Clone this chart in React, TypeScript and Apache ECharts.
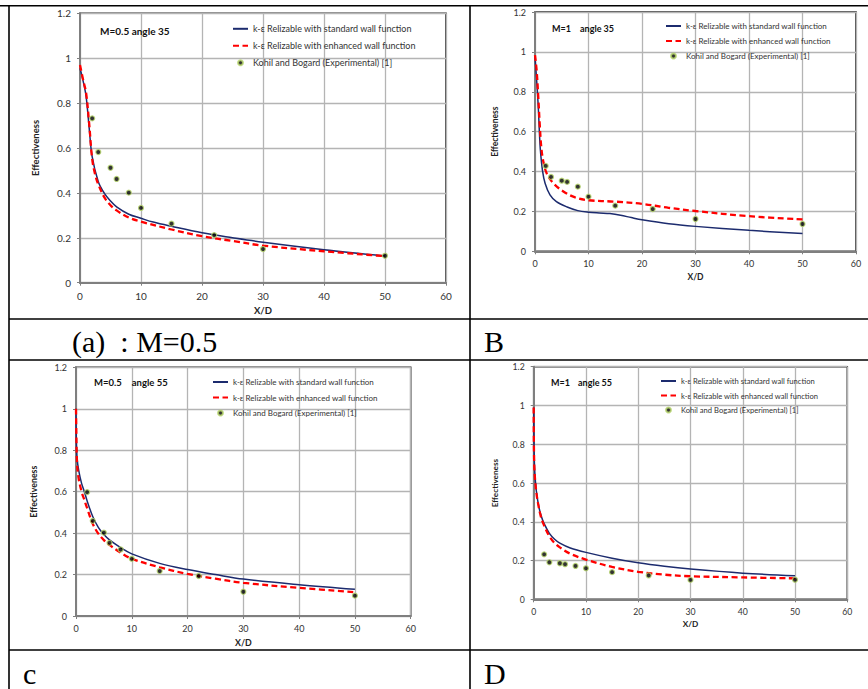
import React, { useEffect, useRef } from 'react';
import * as echarts from 'echarts';

const FONT = "Lato, 'Liberation Sans', sans-serif";
const SERIF = "'Liberation Serif', 'DejaVu Serif', serif";

const NAME_STD = 'k-ε Relizable with standard wall function';
const NAME_ENH = 'k-ε Relizable with enhanced wall function';
const NAME_EXP = 'Kohil and Bogard (Experimental) [1]';

const xTicks = [0, 10, 20, 30, 40, 50, 60];
const yTicks = [0, 0.2, 0.4, 0.6, 0.8, 1, 1.2];

// experimental stations X/D
const expX = [2, 3, 5, 6, 8, 10, 15, 22, 30, 50];

// Panel A: M=0.5 angle 35
const expA = [0.732, 0.582, 0.512, 0.462, 0.401, 0.333, 0.263, 0.212, 0.15, 0.12];
const stdA = [[0, 0.955], [0.5, 0.9], [1, 0.83], [1.5, 0.69], [2, 0.56], [3, 0.45], [4, 0.398], [5, 0.364], [6, 0.338], [8, 0.305], [10, 0.287], [12, 0.27], [15, 0.251], [20, 0.222], [25, 0.2], [30, 0.18], [40, 0.147], [50, 0.119]];
const enhA = [[0, 0.97], [0.5, 0.905], [1, 0.845], [1.5, 0.71], [2, 0.55], [2.5, 0.48], [3, 0.438], [4, 0.38], [5, 0.345], [6, 0.322], [8, 0.29], [10, 0.272], [15, 0.237], [20, 0.207], [25, 0.186], [30, 0.165], [40, 0.14], [50, 0.118]];

// Panel B: M=1 angle 35
const expB = [0.428, 0.373, 0.354, 0.348, 0.324, 0.274, 0.229, 0.212, 0.162, 0.137];
const stdB = [[0, 0.976], [0.3, 0.86], [0.6, 0.73], [0.8, 0.61], [1, 0.51], [1.4, 0.405], [1.9, 0.34], [2.8, 0.283], [4, 0.249], [6, 0.222], [8, 0.204], [10, 0.196], [12, 0.192], [14, 0.189], [16, 0.181], [18, 0.169], [20, 0.158], [25, 0.138], [30, 0.125], [40, 0.105], [50, 0.089]];
const enhB = [[0, 0.984], [0.3, 0.91], [0.6, 0.78], [0.9, 0.63], [1.2, 0.515], [1.6, 0.445], [2.2, 0.39], [3.4, 0.342], [5.3, 0.3], [7.5, 0.27], [10, 0.256], [15, 0.249], [20, 0.238], [25, 0.218], [30, 0.202], [40, 0.176], [50, 0.16]];

// Panel C: M=0.5 angle 55
const expC = [0.598, 0.459, 0.402, 0.353, 0.321, 0.276, 0.217, 0.193, 0.117, 0.098];
const stdC = [[0, 1.0], [0.05, 0.86], [0.2, 0.76], [0.5, 0.7], [1, 0.64], [1.5, 0.6], [2, 0.555], [3, 0.48], [4, 0.428], [5, 0.393], [6, 0.367], [8, 0.33], [10, 0.3], [15, 0.254], [20, 0.224], [25, 0.2], [30, 0.178], [40, 0.151], [50, 0.129]];
const enhC = [[0, 1.0], [0.05, 0.9], [0.2, 0.73], [0.5, 0.66], [1, 0.6], [1.5, 0.56], [2, 0.52], [3, 0.445], [4, 0.397], [5, 0.366], [6, 0.343], [8, 0.306], [10, 0.276], [15, 0.235], [20, 0.203], [25, 0.18], [30, 0.16], [40, 0.136], [50, 0.115]];

// Panel D: M=1 angle 55
const expD = [0.232, 0.191, 0.186, 0.181, 0.172, 0.16, 0.14, 0.123, 0.1, 0.101];
const stdD = [[0, 0.99], [0.06, 0.79], [0.2, 0.66], [0.5, 0.56], [1, 0.475], [1.5, 0.425], [2, 0.39], [3, 0.34], [4, 0.31], [5, 0.29], [7, 0.265], [10, 0.242], [15, 0.212], [20, 0.188], [25, 0.17], [30, 0.156], [40, 0.135], [50, 0.121]];
const enhD = [[0, 0.99], [0.1, 0.7], [0.45, 0.565], [1, 0.47], [1.5, 0.415], [2, 0.38], [3, 0.325], [4, 0.29], [5, 0.268], [7, 0.235], [10, 0.205], [15, 0.167], [20, 0.142], [25, 0.127], [30, 0.119], [40, 0.113], [50, 0.108]];

const panelLabels = ['M=0.5 angle 35', 'M=1', 'M=0.5', 'M=1'];
const panelAngles = ['', 'angle 35', 'angle 55', 'angle 55'];
const captions = ['(a)  : M=0.5', 'B', 'c', 'D'];

const panels = [
  { grid: { left: 80, top: 13.3, width: 366, height: 269.4 }, tick: 10, nameF: 9.5, xGap: 23, yGap: 40, legLeft: 232, legTop: 24.3, legGap: 8, legF: 9, lab: [100, 30.7], ang: [0, 0], labF: 10, exp: expA, std: stdA, enh: enhA },
  { grid: { left: 535, top: 12, width: 321, height: 239.3 }, tick: 9, nameF: 8.5, xGap: 21, yGap: 36, legLeft: 665, legTop: 22, legGap: 7, legF: 8, lab: [552, 28], ang: [580, 28], labF: 9, exp: expB, std: stdB, enh: enhB },
  { grid: { left: 76, top: 367.3, width: 334.7, height: 248.7 }, tick: 9, nameF: 8.8, xGap: 22, yGap: 38, legLeft: 212, legTop: 378, legGap: 7.5, legF: 8, lab: [94, 382.7], ang: [131.7, 382.7], labF: 9.5, exp: expC, std: stdC, enh: enhC },
  { grid: { left: 533.7, top: 366.7, width: 313.6, height: 232.6 }, tick: 8.7, nameF: 8.2, xGap: 21, yGap: 35, legLeft: 660, legTop: 377, legGap: 6.5, legF: 7.6, lab: [551, 382], ang: [578, 382], labF: 9, exp: expD, std: stdD, enh: enhD },
];

const captionPos = [[72, 341.5], [484, 341], [23, 673.5], [484, 673.5]];

export default function App() {
  const ref = useRef<HTMLDivElement>(null);
  useEffect(() => {
    if (!ref.current) return;
    const chart = echarts.init(ref.current, undefined, { renderer: 'svg' });

    const grids = panels.map(p => ({ ...p.grid, show: true, borderColor: '#1a1a1a', borderWidth: 1.5, backgroundColor: 'transparent' }));
    const xAxes = panels.map((p, i) => ({
      type: 'value', gridIndex: i, min: xTicks[0], max: xTicks[xTicks.length - 1], interval: xTicks[1] - xTicks[0],
      name: 'X/D', nameLocation: 'middle', nameGap: p.xGap,
      nameTextStyle: { fontFamily: FONT, fontWeight: 'bold', fontSize: p.nameF, color: '#222' },
      axisLine: { show: true, onZero: false, lineStyle: { color: '#7f7f7f', width: 2 } },
      axisTick: { show: true, length: 3, lineStyle: { color: '#7f7f7f' } },
      axisLabel: { fontFamily: FONT, fontSize: p.tick, color: '#333', margin: 8 },
      splitLine: { show: true, lineStyle: { color: '#b4b4b4', width: 1.3 } },
    }));
    const yAxes = panels.map((p, i) => ({
      type: 'value', gridIndex: i, min: yTicks[0], max: yTicks[yTicks.length - 1], interval: 0.2,
      name: 'Effectiveness', nameLocation: 'middle', nameGap: p.yGap,
      nameTextStyle: { fontFamily: FONT, fontWeight: 'bold', fontSize: p.nameF, color: '#222' },
      axisLine: { show: true, lineStyle: { color: '#7f7f7f', width: 2 } },
      axisTick: { show: true, length: 3, lineStyle: { color: '#7f7f7f' } },
      axisLabel: { fontFamily: FONT, fontSize: p.tick, color: '#333', margin: 9 },
      splitLine: { show: true, lineStyle: { color: '#b4b4b4', width: 1.3 } },
    }));

    const series: any[] = [];
    panels.forEach((p, i) => {
      series.push({
        name: NAME_STD, type: 'line', xAxisIndex: i, yAxisIndex: i, data: p.std, symbol: 'none', showSymbol: false,
        smooth: 0.35, lineStyle: { color: '#1c2b6e', width: 1.5 }, itemStyle: { color: '#1c2b6e' }, z: 3,
      });
      series.push({
        name: NAME_ENH, type: 'line', xAxisIndex: i, yAxisIndex: i, data: p.enh, symbol: 'none', showSymbol: false,
        smooth: 0.35, lineStyle: { color: '#ff0000', width: 2.3, type: [6, 3.5] }, itemStyle: { color: '#ff0000' }, z: 4,
      });
      series.push({
        name: NAME_EXP, type: 'scatter', xAxisIndex: i, yAxisIndex: i, data: expX.map((x, j) => [x, p.exp[j]]),
        symbol: 'circle', symbolSize: 5, itemStyle: { color: '#000', borderColor: '#b5d46a', borderWidth: 1.2 }, z: 5,
      });
    });

    const legends = panels.map(p => ({
      orient: 'vertical', left: p.legLeft, top: p.legTop, padding: 0, itemWidth: 15, itemHeight: 5, itemGap: p.legGap,
      selectedMode: false,
      data: [
        { name: NAME_STD, itemStyle: { opacity: 0 } },
        { name: NAME_ENH, itemStyle: { opacity: 0 } },
        { name: NAME_EXP },
      ],
      textStyle: { fontFamily: FONT, fontSize: p.legF, color: '#333' },
    }));

    const graphics: any[] = [];
    const line = (x1: number, y1: number, x2: number, y2: number) => ({
      type: 'line', shape: { x1, y1, x2, y2 }, style: { stroke: '#000', lineWidth: 1.6 }, z: 10,
    });
    graphics.push(line(0, 5.7, 868, 5.7));
    graphics.push(line(9, 5.7, 9, 689));
    graphics.push(line(470, 5.7, 470, 689));
    graphics.push(line(9, 319, 868, 319));
    graphics.push(line(9, 360, 868, 360));
    graphics.push(line(9, 650, 868, 650));
    panels.forEach((p, i) => {
      graphics.push({ type: 'text', x: p.lab[0], y: p.lab[1], style: { text: panelLabels[i], font: `bold ${p.labF}px ${FONT}`, fill: '#111', textVerticalAlign: 'middle' }, z: 10 });
      if (panelAngles[i]) {
        graphics.push({ type: 'text', x: p.ang[0], y: p.ang[1], style: { text: panelAngles[i], font: `bold ${p.labF}px ${FONT}`, fill: '#111', textVerticalAlign: 'middle' }, z: 10 });
      }
      graphics.push({ type: 'text', x: captionPos[i][0], y: captionPos[i][1], style: { text: captions[i], font: `30px ${SERIF}`, fill: '#000', textVerticalAlign: 'middle' }, z: 10 });
    });

    chart.setOption({
      animation: false,
      backgroundColor: '#fff',
      grid: grids,
      xAxis: xAxes,
      yAxis: yAxes,
      legend: legends,
      series,
      graphic: { elements: graphics },
    });
    return () => chart.dispose();
  }, []);
  return <div ref={ref} style={{ position: 'absolute', left: 0, top: 0, width: 868, height: 689 }} />;
}
